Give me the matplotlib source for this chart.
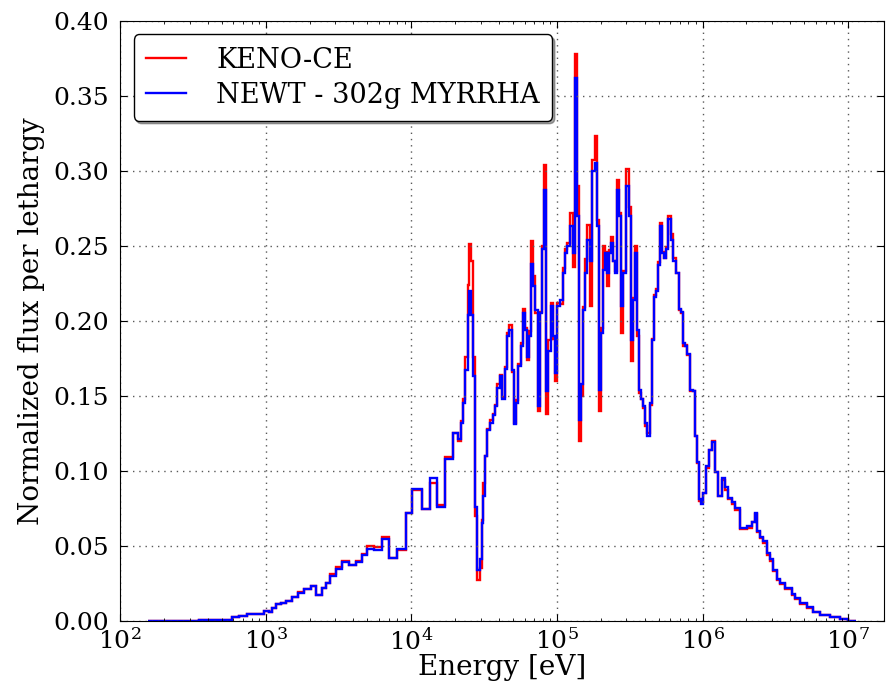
import numpy as np
import matplotlib
matplotlib.use("Agg")
import matplotlib.pyplot as plt
from matplotlib.ticker import FormatStrFormatter, MultipleLocator

plt.rcParams['font.family'] = 'serif'
plt.rcParams['font.serif'] = ['DejaVu Serif']
plt.rcParams['mathtext.fontset'] = 'dejavuserif'
plt.rcParams['xtick.direction'] = 'in'
plt.rcParams['ytick.direction'] = 'in'
plt.rcParams['xtick.top'] = True
plt.rcParams['ytick.right'] = True

# group boundaries, log10(E / eV)
log_edges = np.array([
    2.193, 2.543, 2.770, 2.818, 2.873, 2.990, 3.025, 3.045, 3.073, 3.107,
    3.142, 3.183, 3.224, 3.266, 3.314, 3.348, 3.389, 3.417, 3.444, 3.486,
    3.527, 3.575, 3.623, 3.658, 3.699, 3.747, 3.802, 3.850, 3.905, 3.960,
    4.008, 4.070, 4.125, 4.173, 4.228, 4.283, 4.318, 4.339, 4.352, 4.366,
    4.387, 4.394, 4.407, 4.421, 4.435, 4.449, 4.469, 4.483, 4.490, 4.504,
    4.517, 4.538, 4.559, 4.572, 4.586, 4.607, 4.621, 4.641, 4.655, 4.669,
    4.689, 4.703, 4.717, 4.731, 4.751, 4.765, 4.779, 4.792, 4.806, 4.820,
    4.834, 4.848, 4.868, 4.882, 4.896, 4.909, 4.923, 4.937, 4.958, 4.971,
    4.985, 4.999, 5.019, 5.040, 5.054, 5.068, 5.088, 5.109, 5.123, 5.136,
    5.150, 5.164, 5.178, 5.191, 5.205, 5.226, 5.240, 5.260, 5.274, 5.288,
    5.301, 5.315, 5.329, 5.343, 5.356, 5.370, 5.384, 5.398, 5.411, 5.425,
    5.439, 5.453, 5.473, 5.494, 5.508, 5.522, 5.535, 5.549, 5.563, 5.577,
    5.590, 5.604, 5.618, 5.638, 5.652, 5.666, 5.680, 5.694, 5.707, 5.721,
    5.735, 5.749, 5.762, 5.783, 5.797, 5.817, 5.838, 5.852, 5.865, 5.879,
    5.893, 5.914, 5.934, 5.948, 5.962, 5.976, 5.989, 6.003, 6.024, 6.044,
    6.065, 6.086, 6.106, 6.134, 6.154, 6.175, 6.202, 6.223, 6.257, 6.306,
    6.340, 6.361, 6.374, 6.395, 6.416, 6.443, 6.464, 6.484, 6.512, 6.533,
    6.567, 6.615, 6.636, 6.670, 6.718, 6.760, 6.808, 6.877, 6.945, 7.000,
    7.055,
])
energy_edges = 10.0 ** log_edges

newt = [
    0.0002, 0.0008, 0.0025, 0.0033, 0.0047, 0.0069, 0.0058, 0.0087, 0.0110, 0.0120,
    0.0136, 0.0160, 0.0184, 0.0213, 0.0230, 0.0173, 0.0218, 0.0250, 0.0300, 0.0347,
    0.0390, 0.0370, 0.0396, 0.0440, 0.0480, 0.0476, 0.0547, 0.0420, 0.0480, 0.0720,
    0.0880, 0.0744, 0.0950, 0.0760, 0.1080, 0.1250, 0.1210, 0.1320, 0.1450, 0.1670,
    0.2040, 0.2200, 0.2040, 0.1630, 0.0760, 0.0340, 0.0410, 0.0650, 0.0830, 0.1100,
    0.1270, 0.1320, 0.1370, 0.1430, 0.1550, 0.1630, 0.1480, 0.1680, 0.1900, 0.1940,
    0.1670, 0.1310, 0.1450, 0.1700, 0.1830, 0.2050, 0.1940, 0.1760, 0.1900, 0.2380,
    0.2230, 0.2070, 0.1430, 0.2050, 0.2480, 0.2870, 0.1530, 0.1800, 0.2100, 0.1900,
    0.1650, 0.2100, 0.2140, 0.2320, 0.2450, 0.2500, 0.2630, 0.2450, 0.3620, 0.2700,
    0.1340, 0.1580, 0.2070, 0.2320, 0.2540, 0.2400, 0.3000, 0.3050, 0.2630, 0.1540,
    0.1920, 0.2340, 0.2450, 0.2320, 0.2450, 0.2520, 0.2400, 0.2320, 0.2870, 0.2700,
    0.2100, 0.2320, 0.2900, 0.2700, 0.1870, 0.2140, 0.2450, 0.1940, 0.1540, 0.1480,
    0.1430, 0.1320, 0.1230, 0.1450, 0.1870, 0.2160, 0.2200, 0.2370, 0.2630, 0.2450,
    0.2420, 0.2480, 0.2680, 0.2540, 0.2400, 0.2320, 0.2080, 0.2060, 0.1850, 0.1830,
    0.1780, 0.1540, 0.1530, 0.1230, 0.1060, 0.0810, 0.0780, 0.0850, 0.1030, 0.1140,
    0.1190, 0.0990, 0.0830, 0.0950, 0.0890, 0.0820, 0.0790, 0.0750, 0.0620, 0.0630,
    0.0660, 0.0720, 0.0600, 0.0560, 0.0530, 0.0450, 0.0410, 0.0340, 0.0280, 0.0250,
    0.0220, 0.0180, 0.0150, 0.0120, 0.0090, 0.0060, 0.0040, 0.0025, 0.0010, 0.0002,
]

keno = [
    0.0002, 0.0008, 0.0025, 0.0033, 0.0047, 0.0069, 0.0058, 0.0087, 0.0110, 0.0120,
    0.0136, 0.0160, 0.0190, 0.0213, 0.0230, 0.0173, 0.0218, 0.0250, 0.0310, 0.0358,
    0.0398, 0.0375, 0.0398, 0.0445, 0.0500, 0.0490, 0.0560, 0.0418, 0.0473, 0.0720,
    0.0870, 0.0744, 0.0920, 0.0770, 0.1090, 0.1250, 0.1200, 0.1330, 0.1480, 0.1760,
    0.2240, 0.2510, 0.2400, 0.1760, 0.0700, 0.0270, 0.0350, 0.0670, 0.0920, 0.1100,
    0.1280, 0.1340, 0.1380, 0.1440, 0.1580, 0.1640, 0.1490, 0.1690, 0.1920, 0.1970,
    0.1660, 0.1320, 0.1470, 0.1710, 0.1850, 0.2080, 0.1950, 0.1740, 0.1930, 0.2530,
    0.2300, 0.2050, 0.1400, 0.2060, 0.2500, 0.3040, 0.1380, 0.1870, 0.2120, 0.1880,
    0.1600, 0.2120, 0.2110, 0.2350, 0.2480, 0.2520, 0.2720, 0.2360, 0.3780, 0.2900,
    0.1200, 0.1500, 0.2090, 0.2410, 0.2640, 0.2100, 0.3070, 0.3230, 0.2670, 0.1400,
    0.1950, 0.2500, 0.2460, 0.2230, 0.2470, 0.2560, 0.2400, 0.2330, 0.2940, 0.2720,
    0.1920, 0.2330, 0.3010, 0.2760, 0.1730, 0.2150, 0.2500, 0.1900, 0.1520, 0.1480,
    0.1420, 0.1300, 0.1250, 0.1440, 0.1880, 0.2170, 0.2210, 0.2390, 0.2650, 0.2460,
    0.2420, 0.2490, 0.2700, 0.2580, 0.2420, 0.2320, 0.2070, 0.2050, 0.1830, 0.1840,
    0.1770, 0.1530, 0.1530, 0.1230, 0.1050, 0.0800, 0.0790, 0.0850, 0.1020, 0.1140,
    0.1200, 0.0990, 0.0830, 0.0940, 0.0870, 0.0810, 0.0780, 0.0740, 0.0610, 0.0620,
    0.0660, 0.0710, 0.0590, 0.0550, 0.0520, 0.0440, 0.0400, 0.0335, 0.0275, 0.0245,
    0.0215, 0.0175, 0.0145, 0.0115, 0.0087, 0.0058, 0.0039, 0.0024, 0.0010, 0.0002,
]

fig = plt.figure(figsize=(8.96, 6.95), dpi=100)
ax = fig.add_axes([0.134, 0.1065, 0.853, 0.8635])

ax.stairs(keno, energy_edges, color='r', lw=1.7, label='KENO-CE')
ax.stairs(newt, energy_edges, color='b', lw=1.7, label='NEWT - 302g MYRRHA')

ax.set_xscale('log')
ax.set_xlim(1e2, 1.77e7)
ax.set_ylim(0.0, 0.40)
ax.yaxis.set_major_locator(MultipleLocator(0.05))
ax.yaxis.set_major_formatter(FormatStrFormatter('%.2f'))
ax.grid(True, which='major', color='0.35', linestyle=(0, (1, 3.5)), linewidth=1.0)
ax.tick_params(which='major', length=5, labelsize=18)
ax.tick_params(which='minor', length=2.5)
ax.tick_params(axis='x', pad=5)
ax.tick_params(axis='y', pad=8)

ax.set_xlabel('Energy [eV]', fontsize=20, labelpad=0)
ax.set_ylabel('Normalized flux per lethargy', fontsize=20, labelpad=6)

leg = ax.legend(loc='upper left', fontsize=19.5, fancybox=True, shadow=True,
                handlelength=1.5, handletextpad=1.1, labelspacing=0.3,
                borderpad=0.45, framealpha=1.0)
leg.get_frame().set_edgecolor('k')

fig.savefig('out.png', dpi=100)
